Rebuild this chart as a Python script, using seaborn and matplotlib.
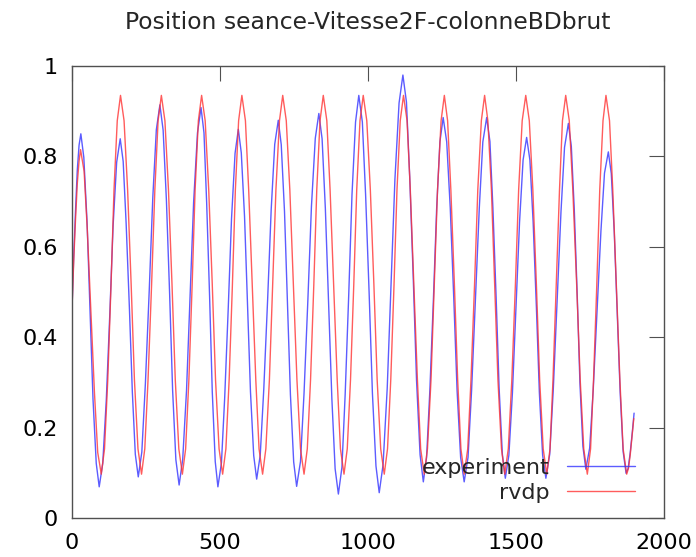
import pandas as pd
import matplotlib
matplotlib.use("Agg")
import matplotlib.pyplot as plt
import seaborn as sns

# experiment curve (one line per half swing)
exp_x = [0, 6, 12, 18, 24, 30,
         40, 51, 61, 71, 82, 92,
         104, 116, 128, 139, 151, 163,
         173, 183, 194, 204, 214, 224,
         236, 248, 261, 273, 285, 297,
         308, 319, 330, 340, 351, 362,
         374, 387, 399, 411, 424, 436,
         446, 455, 465, 474, 484, 493,
         505, 516, 528, 539, 551, 562,
         572, 583, 593, 603, 614, 624,
         636, 648, 661, 673, 685, 697,
         707, 718, 728, 738, 749, 759,
         772, 784, 797, 809, 822, 834,
         845, 856, 867, 878, 889, 900,
         912, 923, 935, 946, 958, 969,
         981, 992, 1004, 1015, 1027, 1038,
         1051, 1065, 1078, 1091, 1105, 1118,
         1130, 1141, 1153, 1164, 1176, 1187,
         1198, 1209, 1221, 1232, 1243, 1254,
         1266, 1278, 1290, 1301, 1313, 1325,
         1338, 1350, 1363, 1376, 1388, 1401,
         1412, 1422, 1433, 1443, 1454, 1464,
         1476, 1488, 1500, 1512, 1524, 1536,
         1547, 1558, 1569, 1579, 1590, 1601,
         1614, 1626, 1639, 1652, 1664, 1677,
         1687, 1697, 1707, 1716, 1726, 1736,
         1749, 1761, 1774, 1787, 1799, 1812,
         1822, 1832, 1842, 1852, 1862, 1872,
         1879, 1886, 1893, 1899]
exp_y = [0.46, 0.58, 0.68, 0.77, 0.825, 0.85,
         0.798, 0.655, 0.46, 0.264, 0.121, 0.069,
         0.121, 0.262, 0.454, 0.647, 0.787, 0.839,
         0.789, 0.652, 0.465, 0.278, 0.141, 0.091,
         0.146, 0.297, 0.503, 0.708, 0.859, 0.914,
         0.858, 0.704, 0.494, 0.283, 0.129, 0.073,
         0.129, 0.282, 0.491, 0.699, 0.852, 0.908,
         0.852, 0.698, 0.489, 0.279, 0.125, 0.069,
         0.122, 0.267, 0.465, 0.662, 0.807, 0.86,
         0.808, 0.667, 0.473, 0.280, 0.138, 0.086,
         0.139, 0.285, 0.483, 0.682, 0.827, 0.88,
         0.826, 0.678, 0.475, 0.273, 0.124, 0.07,
         0.125, 0.276, 0.483, 0.689, 0.840, 0.895,
         0.839, 0.685, 0.474, 0.264, 0.109, 0.053,
         0.112, 0.274, 0.494, 0.715, 0.876, 0.935,
         0.876, 0.715, 0.496, 0.276, 0.115, 0.056,
         0.118, 0.287, 0.518, 0.749, 0.918, 0.98,
         0.92, 0.755, 0.53, 0.305, 0.14, 0.08,
         0.134, 0.282, 0.483, 0.685, 0.832, 0.886,
         0.832, 0.685, 0.483, 0.282, 0.134, 0.08,
         0.134, 0.282, 0.483, 0.685, 0.832, 0.886,
         0.833, 0.687, 0.487, 0.288, 0.141, 0.088,
         0.139, 0.277, 0.465, 0.654, 0.792, 0.842,
         0.792, 0.654, 0.465, 0.277, 0.139, 0.088,
         0.141, 0.284, 0.481, 0.677, 0.820, 0.873,
         0.822, 0.682, 0.491, 0.299, 0.159, 0.108,
         0.155, 0.284, 0.459, 0.635, 0.763, 0.81,
         0.762, 0.632, 0.455, 0.277, 0.147, 0.099,
         0.11, 0.145, 0.19, 0.232]

# rvdp model curve
rvdp_x = [0, 6, 12, 18, 24, 29,
          41, 52, 64, 76, 87, 99,
          110, 121, 132, 142, 153, 164,
          176, 188, 200, 211, 223, 235,
          246, 257, 269, 280, 291, 302,
          314, 326, 338, 349, 361, 373,
          384, 395, 406, 416, 427, 438,
          450, 462, 474, 485, 497, 509,
          520, 531, 542, 552, 563, 574,
          586, 597, 609, 621, 632, 644,
          655, 667, 678, 689, 701, 712,
          724, 736, 748, 760, 772, 784,
          795, 806, 817, 827, 838, 849,
          861, 872, 884, 896, 907, 919,
          930, 941, 952, 962, 973, 984,
          996, 1008, 1020, 1031, 1043, 1055,
          1066, 1077, 1088, 1098, 1109, 1120,
          1132, 1143, 1155, 1167, 1178, 1190,
          1201, 1213, 1224, 1235, 1247, 1258,
          1269, 1280, 1292, 1303, 1314, 1325,
          1337, 1348, 1360, 1371, 1383, 1394,
          1405, 1417, 1428, 1439, 1451, 1462,
          1474, 1486, 1498, 1509, 1521, 1533,
          1545, 1557, 1569, 1580, 1592, 1604,
          1615, 1625, 1636, 1647, 1657, 1668,
          1680, 1692, 1705, 1717, 1729, 1741,
          1752, 1762, 1773, 1783, 1794, 1804,
          1816, 1827, 1839, 1851, 1862, 1874,
          1880, 1886, 1892, 1898]
rvdp_y = [0.46, 0.57, 0.66, 0.74, 0.79, 0.815,
          0.767, 0.635, 0.456, 0.277, 0.145, 0.097,
          0.153, 0.306, 0.516, 0.726, 0.879, 0.935,
          0.879, 0.726, 0.516, 0.306, 0.153, 0.097,
          0.153, 0.306, 0.516, 0.726, 0.879, 0.935,
          0.879, 0.726, 0.516, 0.306, 0.153, 0.097,
          0.153, 0.306, 0.516, 0.726, 0.879, 0.935,
          0.879, 0.726, 0.516, 0.306, 0.153, 0.097,
          0.153, 0.306, 0.516, 0.726, 0.879, 0.935,
          0.879, 0.726, 0.516, 0.306, 0.153, 0.097,
          0.153, 0.306, 0.516, 0.726, 0.879, 0.935,
          0.879, 0.726, 0.516, 0.306, 0.153, 0.097,
          0.153, 0.306, 0.516, 0.726, 0.879, 0.935,
          0.879, 0.726, 0.516, 0.306, 0.153, 0.097,
          0.153, 0.306, 0.516, 0.726, 0.879, 0.935,
          0.879, 0.726, 0.516, 0.306, 0.153, 0.097,
          0.153, 0.306, 0.516, 0.726, 0.879, 0.935,
          0.879, 0.726, 0.516, 0.306, 0.153, 0.097,
          0.153, 0.306, 0.516, 0.726, 0.879, 0.935,
          0.879, 0.726, 0.516, 0.306, 0.153, 0.097,
          0.153, 0.306, 0.516, 0.726, 0.879, 0.935,
          0.879, 0.726, 0.516, 0.306, 0.153, 0.097,
          0.153, 0.306, 0.516, 0.726, 0.879, 0.935,
          0.879, 0.726, 0.516, 0.306, 0.153, 0.097,
          0.153, 0.306, 0.516, 0.726, 0.879, 0.935,
          0.879, 0.726, 0.516, 0.306, 0.153, 0.097,
          0.153, 0.306, 0.516, 0.726, 0.879, 0.935,
          0.879, 0.726, 0.516, 0.306, 0.153, 0.097,
          0.11, 0.14, 0.18, 0.22]

x_ticks = [0, 500, 1000, 1500, 2000]
y_ticks = [0, 0.2, 0.4, 0.6, 0.8, 1]
y_labels = ["0", "0.2", "0.4", "0.6", "0.8", "1"]

df = pd.concat([
    pd.DataFrame({"t": exp_x, "pos": exp_y, "serie": "experiment"}),
    pd.DataFrame({"t": rvdp_x, "pos": rvdp_y, "serie": "rvdp"}),
], ignore_index=True)

sns.set_theme(style="white")
plt.rcParams["font.family"] = ["DejaVu Sans"]

fig = plt.figure(figsize=(6.96, 5.57), dpi=100)
ax = fig.add_axes([0.1034, 0.070, 0.8506, 0.8115])

sns.lineplot(data=df, x="t", y="pos", hue="serie", estimator=None, sort=False,
             palette={"experiment": "#3333ff", "rvdp": "#ff3333"},
             linewidth=1.0, alpha=0.8, ax=ax)

ax.set_xlim(0, 2000)
ax.set_ylim(0, 1)
ax.set_xticks(x_ticks)
ax.set_yticks(y_ticks)
ax.set_yticklabels(y_labels)
ax.set_xlabel("")
ax.set_ylabel("")

# bordure grise avec graduations vers l'intérieur sur les quatre côtés
for s in ax.spines.values():
    s.set_visible(True)
    s.set_color("#505050")
    s.set_linewidth(1.0)

ax.tick_params(axis="both", direction="in", length=10.5, width=0.8, color="#505050",
               labelsize=16, labelcolor="black", top=True, right=True)
ax.tick_params(axis="y", pad=10)
ax.tick_params(axis="x", pad=11)

ax.set_title("Position seance-Vitesse2F-colonneBDbrut", fontsize=16.9, pad=27)

ax.legend(loc="lower right", bbox_to_anchor=(0.951, 0.033), frameon=False,
          markerfirst=False, fontsize=16, handlelength=3.05, handletextpad=0.78,
          labelspacing=0.22, borderpad=0, borderaxespad=0, title=None)

fig.savefig("out.png", dpi=100)
